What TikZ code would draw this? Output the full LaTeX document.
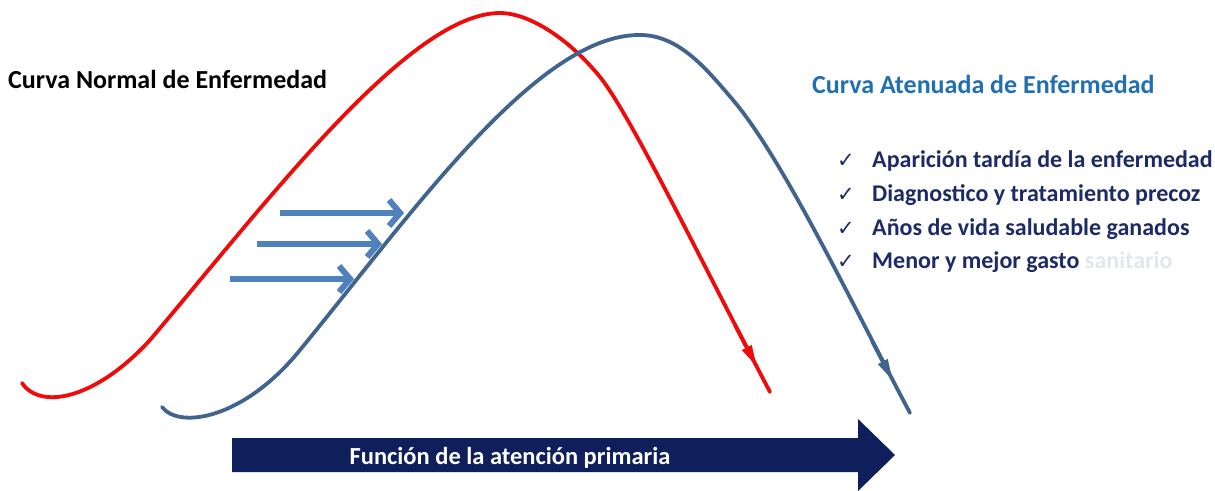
\documentclass[tikz,border=0pt]{standalone}
\usepackage{fontspec}
\setmainfont{Carlito}
\newfontfamily\symfont{DejaVu Sans}
\usetikzlibrary{arrows.meta}
\definecolor{curvered}{HTML}{F00A0A}
\definecolor{curveblue}{HTML}{41648F}
\definecolor{shiftblue}{HTML}{4F81BD}
\definecolor{navy}{HTML}{0E1F5B}
\definecolor{titleblue}{HTML}{1F6FB3}
\definecolor{listnavy}{HTML}{1C2B66}
\definecolor{faint}{HTML}{E2E6EE}
\tikzset{
  curve/.style={line width=3.8pt, line cap=round, line join=round},
  midtip/.style={-{Triangle[length=22pt,width=10pt]}, line width=3.8pt},
  shiftarrow/.style={shiftblue, line width=6pt, -{Straight Barb[length=11pt,width=26pt]}},
  title/.style={anchor=base west, font=\bfseries\fontsize{26}{30}\selectfont, inner sep=0pt},
  item/.style={anchor=base west, font=\bfseries\fontsize{24}{28}\selectfont, text=listnavy, inner sep=0pt},
  check/.style={anchor=base, font=\symfont\fontsize{21}{24}\selectfont, text=listnavy, inner sep=0pt}
}
\begin{document}
\begin{tikzpicture}[x=1pt,y=-1pt]
\useasboundingbox (0,0) rectangle (1215,490);
% red curve
\draw[curve, curvered] (22,383)
  .. controls (40,410) and (95,400) .. (150,340)
  .. controls (270,198) and (410,13) .. (500,13)
  .. controls (530,13) and (570,40) .. (600,77)
  .. controls (630,114) and (700,259) .. (770,392);
\coordinate (rs) at (735,325);
\coordinate (rt) at (757,367);
\draw[curvered, midtip] (rs) -- (rt);
% blue curve
\draw[curve, curveblue] (162,407)
  .. controls (180,430) and (245,418) .. (300,350)
  .. controls (410,216) and (537,34) .. (640,35)
  .. controls (680,35) and (708,71) .. (733,100)
  .. controls (783,159) and (850,300) .. (910,413);
\coordinate (bs) at (872,341);
\coordinate (bt) at (893,381);
\draw[curveblue, midtip] (bs) -- (bt);
% shift arrows
\coordinate (a1s) at (280,213); \coordinate (a1e) at (404,213);
\coordinate (a2s) at (257,244); \coordinate (a2e) at (382,244);
\coordinate (a3s) at (230,279); \coordinate (a3e) at (354,279);
\draw[shiftarrow] (a1s) -- (a1e);
\draw[shiftarrow] (a2s) -- (a2e);
\draw[shiftarrow] (a3s) -- (a3e);
% big arrow
\fill[navy] (232,438) -- (858,438) -- (858,419) -- (895,455) -- (858,491) -- (858,472) -- (232,472) -- cycle;
\node[text=white, font=\bfseries\fontsize{24.5}{30}\selectfont, anchor=base, inner sep=0pt] (fn) at (510,464) {Función de la atención primaria};
% titles
\node[title] (t1) at (8,88) {Curva Normal de Enfermedad};
\node[title, text=titleblue] (t2) at (812,93) {Curva Atenuada de Enfermedad};
% list
\node[check] (c1) at (846,167) {✓};
\node[item] (i1) at (872,167) {Aparición tardía de la enfermedad};
\node[check] (c2) at (846,201) {✓};
\node[item] (i2) at (872,201) {Diagnostico y tratamiento precoz};
\node[check] (c3) at (846,235) {✓};
\node[item] (i3) at (872,235) {Años de vida saludable ganados};
\node[check] (c4) at (846,268) {✓};
\node[item] (i4) at (872,268) {Menor y mejor gasto \textcolor{faint}{sanitario}};
\end{tikzpicture}
\end{document}
